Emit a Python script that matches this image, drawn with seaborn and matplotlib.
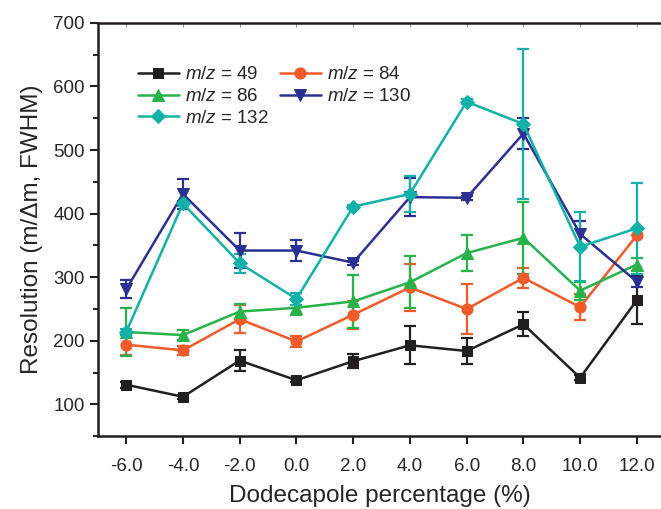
import pandas as pd
import seaborn as sns
import matplotlib.pyplot as plt

# dodecapole percentage (x) and resolution for each m/z
pct = [-6.0, -4.0, -2.0, 0.0, 2.0, 4.0, 6.0, 8.0, 10.0, 12.0]
mz49 = [131, 112, 169, 138, 168, 193, 184, 226, 142, 264]
mz49_err = [5, 3, 17, 3, 11, 30, 21, 19, 4, 38]
mz84 = [194, 185, 234, 199, 241, 284, 250, 299, 253, 366]
mz84_err = [16, 7, 22, 8, 22, 37, 40, 16, 20, 0]
mz86 = [214, 209, 246, 252, 262, 292, 338, 362, 279, 320]
mz86_err = [38, 8, 12, 12, 42, 41, 28, 57, 14, 10]
mz130 = [281, 431, 342, 342, 323, 426, 425, 526, 368, 293]
mz130_err = [14, 24, 27, 16, 3, 30, 3, 25, 21, 8]
mz132 = [214, 416, 322, 266, 411, 431, 576, 541, 348, 377]
mz132_err = [5, 4, 15, 9, 3, 28, 4, 118, 54, 72]

labels = ["$m/z$ = 49", "$m/z$ = 84", "$m/z$ = 86", "$m/z$ = 130", "$m/z$ = 132"]
colors = ["#231f20", "#f15a29", "#27b24a", "#2b3192", "#13b1a8"]
markers = ["s", "o", "^", "v", "D"]
msizes = [7.5, 8, 8, 8, 7]

series = [(mz49, mz49_err), (mz84, mz84_err), (mz86, mz86_err),
          (mz130, mz130_err), (mz132, mz132_err)]

rows = []
for lab, (vals, errs) in zip(labels, series):
    for x, v, e in zip(pct, vals, errs):
        rows.append({"pct": x, "res": v, "err": e, "ion": lab})
df = pd.DataFrame(rows)

sns.set_style("ticks")
plt.rcParams["font.family"] = ["Liberation Sans", "DejaVu Sans"]
plt.rcParams["mathtext.fontset"] = "custom"
plt.rcParams["mathtext.it"] = "Liberation Sans:italic"
plt.rcParams["mathtext.rm"] = "Liberation Sans"

fig = plt.figure(figsize=(6.61, 5.09), dpi=100)
ax = fig.add_axes([0.148, 0.143, 0.852, 0.812])

for lab, col, mk, ms in zip(labels, colors, markers, msizes):
    d = df[df["ion"] == lab]
    ax.errorbar(d["pct"], d["res"], yerr=d["err"], fmt="none", ecolor=col,
                elinewidth=1.6, capsize=4, capthick=1.6, zorder=2)
    sns.lineplot(data=d, x="pct", y="res", ax=ax, color=col, marker=mk,
                 markersize=ms, markeredgecolor=col, linewidth=1.8,
                 label=lab, zorder=3)

ax.set_xlim(-7.0, 12.85)
ax.set_ylim(50, 700)
ax.set_xticks(pct)
ax.set_xticklabels([f"{v:.1f}" for v in pct])
ax.set_yticks(range(100, 701, 100))
ax.set_yticks(range(50, 701, 50), minor=True)
ax.tick_params(axis="both", labelsize=13.5, width=1.5, length=6, color="#231f20")
ax.tick_params(axis="y", which="minor", width=1.5, length=3.5)
ax.tick_params(axis="x", pad=10)

top = ax.secondary_xaxis("top")
top.set_xticks(pct)
top.tick_params(direction="in", length=3, width=0.8, labeltop=False, color="#999999")

for s in ["left", "bottom"]:
    ax.spines[s].set_linewidth(1.8)
    ax.spines[s].set_color("#231f20")
ax.spines["right"].set_visible(False)
top.spines["top"].set_linewidth(1.8)
top.spines["top"].set_color("#231f20")
ax.spines["top"].set_visible(False)

ax.set_xlabel("Dodecapole percentage (%)", fontsize=17.5, labelpad=7)
ax.set_ylabel("Resolution (m/\u0394m, FWHM)", fontsize=17.5, labelpad=7)

h, l = ax.get_legend_handles_labels()
order = [0, 2, 4, 1, 3]
ax.legend([h[i] for i in order], [l[i] for i in order], ncol=2, frameon=False,
          fontsize=13.5, loc="upper left", bbox_to_anchor=(0.041, 0.936),
          handlelength=2.2, columnspacing=0.6, labelspacing=0.25, handletextpad=0.3)

fig.savefig("out.png", dpi=100)
